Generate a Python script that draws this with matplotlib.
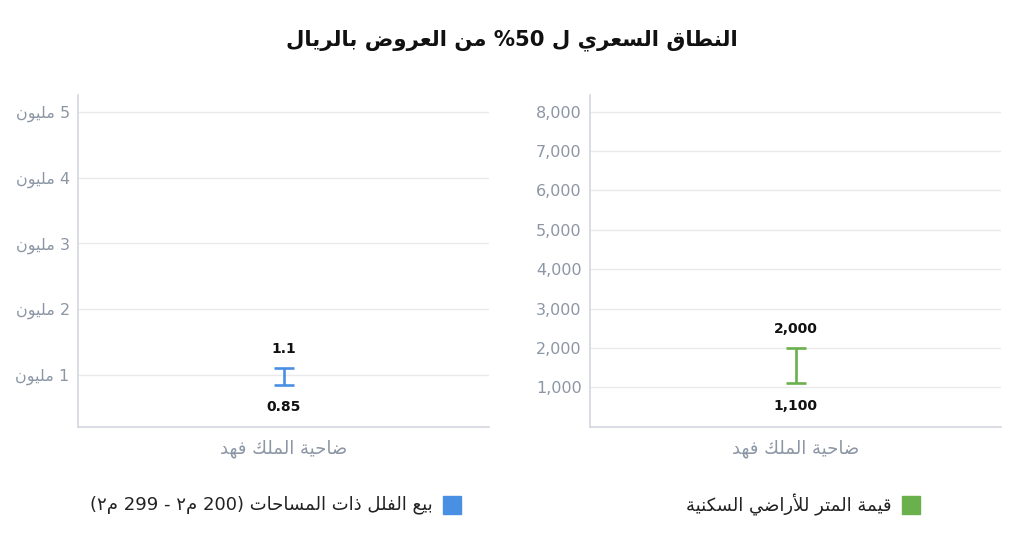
import matplotlib
matplotlib.use("Agg")
import matplotlib.pyplot as plt
from matplotlib.patches import Rectangle

# --- data ---
title = "النطاق السعري ل 50% من العروض بالريال"
category = ["ضاحية الملك فهد"]

villa_low = [0.85]      # million SAR
villa_high = [1.1]
villa_low_lbl = ["0.85"]
villa_high_lbl = ["1.1"]
villa_ticks = [1, 2, 3, 4, 5]
villa_ticklabels = ["1 مليون", "2 مليون", "3 مليون", "4 مليون", "5 مليون"]

land_low = [1100]       # SAR per m2
land_high = [2000]
land_low_lbl = ["1,100"]
land_high_lbl = ["2,000"]
land_ticks = [1000, 2000, 3000, 4000, 5000, 6000, 7000, 8000]
land_ticklabels = ["1,000", "2,000", "3,000", "4,000", "5,000", "6,000", "7,000", "8,000"]

legend_names = ["بيع الفلل ذات المساحات (200 م٢ - 299 م٢)", "قيمة المتر للأراضي السكنية"]
colors = ["#4a90e2", "#6ab04c"]

# --- minimal arabic shaping (matplotlib has no bidi / joining support) ---
DUAL = {'ئ': 0xFE89, 'ب': 0xFE8F, 'ت': 0xFE95, 'ث': 0xFE99, 'ج': 0xFE9D, 'ح': 0xFEA1,
        'خ': 0xFEA5, 'س': 0xFEB1, 'ش': 0xFEB5, 'ص': 0xFEB9, 'ض': 0xFEBD, 'ط': 0xFEC1,
        'ظ': 0xFEC5, 'ع': 0xFEC9, 'غ': 0xFECD, 'ف': 0xFED1, 'ق': 0xFED5, 'ك': 0xFED9,
        'ل': 0xFEDD, 'م': 0xFEE1, 'ن': 0xFEE5, 'ه': 0xFEE9, 'ي': 0xFEF1}
RIGHT = {'آ': 0xFE81, 'أ': 0xFE83, 'ؤ': 0xFE85, 'إ': 0xFE87, 'ا': 0xFE8D, 'ة': 0xFE93,
         'د': 0xFEA9, 'ذ': 0xFEAB, 'ر': 0xFEAD, 'ز': 0xFEAF, 'و': 0xFEED, 'ى': 0xFEEF}
LAM_ALEF = {'آ': 0xFEF5, 'أ': 0xFEF7, 'إ': 0xFEF9, 'ا': 0xFEFB}
MIRROR = {'(': ')', ')': '('}


def shape(s):
    chars = []
    i = 0
    while i < len(s):
        if s[i] == 'ل' and i + 1 < len(s) and s[i + 1] in LAM_ALEF:
            chars.append(('LA', s[i + 1]))
            i += 2
        else:
            chars.append(s[i])
            i += 1
    out = []
    for k, c in enumerate(chars):
        prev = chars[k - 1] if k > 0 else None
        nxt = chars[k + 1] if k + 1 < len(chars) else None
        p = isinstance(prev, str) and prev in DUAL
        n = isinstance(nxt, tuple) or (isinstance(nxt, str) and (nxt in DUAL or nxt in RIGHT))
        if isinstance(c, tuple):
            out.append(chr(LAM_ALEF[c[1]] + (1 if p else 0)))
        elif c in DUAL:
            off = 3 if (p and n) else 1 if p else 2 if n else 0
            out.append(chr(DUAL[c] + off))
        elif c in RIGHT:
            out.append(chr(RIGHT[c] + (1 if p else 0)))
        else:
            out.append(c)
    return out


def ar(s):
    runs = []
    for g in shape(s):
        ltr = g.isascii() and (g.isalnum() or g in '.,')
        if runs and runs[-1][0] == ltr:
            runs[-1][1].append(g)
        else:
            runs.append([ltr, [g]])
    out = []
    for ltr, gs in reversed(runs):
        if ltr:
            out.extend(gs)
        else:
            out.extend(MIRROR.get(g, g) for g in reversed(gs))
    return ''.join(out)


plt.rcParams['font.family'] = ['DejaVu Sans']
grid_c = "#e8eaee"
spine_c = "#d3d7de"
tick_c = "#8c96a5"

fig = plt.figure(figsize=(10.24, 5.58), dpi=100)
fig.text(0.5, 0.928, ar(title), ha="center", va="center", fontsize=15.3,
         fontweight="bold", color="#111111")

ax1 = fig.add_axes([78 / 1024, 0.2353, 411 / 1024, 0.5945])
ax2 = fig.add_axes([590 / 1024, 0.2353, 411 / 1024, 0.5945])

panels = [
    (ax1, villa_low, villa_high, villa_low_lbl, villa_high_lbl, villa_ticks, villa_ticklabels,
     (0.214, 5.254), colors[0]),
    (ax2, land_low, land_high, land_low_lbl, land_high_lbl, land_ticks, land_ticklabels,
     (0, 8425), colors[1]),
]

for ax, lo, hi, lo_lbl, hi_lbl, ticks, ticklabels, ylim, col in panels:
    x = list(range(len(category)))
    mid = [(a + b) / 2 for a, b in zip(lo, hi)]
    err = [[m - a for m, a in zip(mid, lo)], [b - m for m, b in zip(mid, hi)]]
    ax.errorbar(x, mid, yerr=err, fmt="none", ecolor=col, elinewidth=1.9,
                capsize=7, capthick=1.9, zorder=3)
    for xi, a, b, la, lb in zip(x, lo, hi, lo_lbl, hi_lbl):
        ax.annotate(lb, (xi, b), xytext=(0, 14), textcoords="offset points",
                    ha="center", va="center", fontsize=10, fontweight="bold", color="#111111")
        ax.annotate(la, (xi, a), xytext=(0, -16), textcoords="offset points",
                    ha="center", va="center", fontsize=10, fontweight="bold", color="#111111")
    ax.set_xlim(-0.5, len(category) - 0.5)
    ax.set_ylim(*ylim)
    ax.set_yticks(ticks)
    ax.set_yticklabels([ar(t) for t in ticklabels])
    ax.set_xticks(x)
    ax.set_xticklabels([ar(c) for c in category])
    ax.tick_params(axis="both", length=0, labelcolor=tick_c)
    ax.tick_params(axis="y", pad=6, labelsize=11.5)
    ax.tick_params(axis="x", pad=9, labelsize=13)
    ax.grid(axis="y", color=grid_c, linewidth=1)
    ax.set_axisbelow(True)
    for s in ["top", "right"]:
        ax.spines[s].set_visible(False)
    for s in ["left", "bottom"]:
        ax.spines[s].set_color(spine_c)
        ax.spines[s].set_linewidth(1.2)

# legend entries (square on the right, text to its left)
leg_y = 1 - 505 / 558
leg_sq_x = [443 / 1024, 902 / 1024]
sq_w, sq_h = 18 / 1024, 18 / 558
for name, col, sx in zip(legend_names, colors, leg_sq_x):
    fig.patches.append(Rectangle((sx, leg_y - sq_h / 2), sq_w, sq_h, color=col,
                                 transform=fig.transFigure, figure=fig))
    fig.text(sx - 10 / 1024, leg_y, ar(name), ha="right", va="center",
             fontsize=13, color="#222222")

fig.savefig("out.png", dpi=100, facecolor="white")
